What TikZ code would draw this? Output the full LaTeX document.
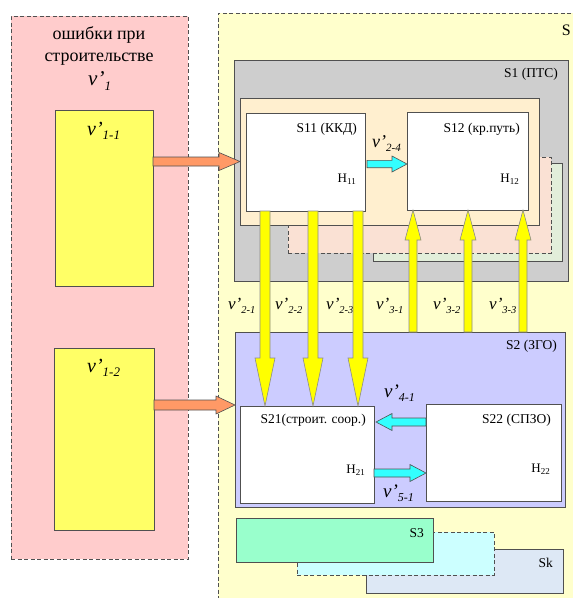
\documentclass[tikz,border=0pt]{standalone}
\usepackage{fontspec}
\setmainfont{Liberation Serif}
\usetikzlibrary{calc,fit,shadows}
\definecolor{pinkbg}{RGB}{255,204,204}
\definecolor{sbg}{RGB}{255,255,204}
\definecolor{sonebg}{RGB}{206,206,206}
\definecolor{bisq}{RGB}{255,239,207}
\definecolor{pinkback}{RGB}{250,225,212}
\definecolor{greenback}{RGB}{226,238,218}
\definecolor{ybox}{RGB}{255,255,102}
\definecolor{lav}{RGB}{204,204,255}
\definecolor{sthree}{RGB}{153,255,204}
\definecolor{cyanbg}{RGB}{204,255,255}
\definecolor{skbg}{RGB}{221,232,245}
\definecolor{orar}{RGB}{255,153,102}
\definecolor{cyar}{RGB}{51,255,255}
\definecolor{yar}{RGB}{255,255,0}
\definecolor{edge}{RGB}{80,80,80}
\newcommand\vl[3]{{\fontsize{#1}{#1}\selectfont\itshape v’\raisebox{-0.24em}{\fontsize{#2}{#2}\selectfont #3}}}
\newcommand\hl[1]{{\fontsize{13}{13}\selectfont Н\raisebox{-0.22em}{\fontsize{9}{9}\selectfont #1}}}
\newcommand\barrow[6]{%
  \coordinate (bh) at ($(#2)!#5!(#1)$);
  \draw[#6] ($(#1)!#3!90:(#2)$) -- ($(bh)!#3!90:(#2)$) -- ($(bh)!#4!90:(#2)$) -- (#2)
    -- ($(bh)!#4!-90:(#2)$) -- ($(bh)!#3!-90:(#2)$) -- ($(#1)!#3!-90:(#2)$) -- cycle;}
\tikzset{
  box/.style={inner sep=0pt, outer sep=0pt, draw=edge, line width=0.7pt},
  dbox/.style={box, dashed, dash pattern=on 4pt off 2.5pt},
  shad/.style={drop shadow={shadow xshift=1.3pt, shadow yshift=-1.3pt, fill=black!55, opacity=1}},
  lbl/.style={inner sep=0pt, font=\fontsize{13.5}{13.5}\selectfont},
  oarrow/.style={fill=orar, draw=edge, line width=0.6pt},
  carrow/.style={fill=cyar, draw=edge, line width=0.6pt},
  yarrow/.style={fill=yar, draw=black!45, line width=0.6pt},
}
\begin{document}
\begin{tikzpicture}[x=1pt,y=-1pt]
\useasboundingbox (0,0) rectangle (573,598);
\clip (0,0) rectangle (573,598);
\fill[white] (0,0) rectangle (573,598);
% left area
\node[dbox, fill=pinkbg, fit={(11,16) (188,559)}] (err) {};
\node[align=center, inner sep=0pt, font=\fontsize{18}{22}\selectfont, anchor=base] (errt) at (99,61) {ошибки при\\строительстве};
\node[inner sep=0pt, anchor=base west] (v1) at (88,85) {\vl{21}{13}{1}};
\node[box, fill=ybox, fit={(55,110) (153,286)}] (y11) {};
\node[inner sep=0pt, anchor=base west] (v11) at (87,135) {\vl{20}{13}{1-1}};
\node[box, fill=ybox, fit={(54,348) (154,530)}] (y12) {};
\node[inner sep=0pt, anchor=base west] (v12) at (87,372) {\vl{20}{13}{1-2}};
% S
\node[dbox, fill=sbg, fit={(218,13) (590,610)}] (s) {};
\node[lbl, anchor=base east, font=\fontsize{16}{16}\selectfont] (st) at (571,35) {S};
% S1
\node[box, shad, fill=sonebg, fit={(234,60) (568,281)}] (s1) {};
\node[lbl, anchor=base east] (s1t) at (558,77) {S1 (ПТС)};
\node[box, shad, fill=greenback, fit={(373,163) (562,261)}] (gb) {};
\node[dbox, fill=pinkback, fit={(288,157) (551,253)}] (pb) {};
\node[box, shad, fill=bisq, fit={(240,98) (539,225)}] (bis) {};
\node[box, shad, fill=white, fit={(246,113) (365,211)}] (s11) {};
\node[lbl, anchor=base east] (s11t) at (357,132) {S11 (ККД)};
\node[inner sep=0pt, anchor=base east] (h11) at (356,182) {\hl{11}};
\node[box, shad, fill=white, fit={(407,112) (528,210)}] (s12) {};
\node[lbl, anchor=base east] (s12t) at (520,132) {S12 (кр.путь)};
\node[inner sep=0pt, anchor=base east] (h12) at (519,182) {\hl{12}};
\node[inner sep=0pt, anchor=base west] (v24) at (372,147) {\vl{18}{11}{2-4}};
% S2
\node[box, shad, fill=lav, fit={(235,332) (565,507)}] (s2) {};
\node[lbl, anchor=base east] (s2t) at (557,349) {S2 (ЗГО)};
\node[box, shad, fill=white, fit={(240,406) (374,503)}] (s21) {};
\node[lbl, anchor=base east] (s21t) at (366,423) {S21(строит. соор.)};
\node[inner sep=0pt, anchor=base east] (h21) at (365,473) {\hl{21}};
\node[box, shad, fill=white, fit={(426,404) (561,501)}] (s22) {};
\node[lbl, anchor=base east] (s22t) at (551,423) {S22 (СПЗО)};
\node[inner sep=0pt, anchor=base east] (h22) at (550,472) {\hl{22}};
\node[inner sep=0pt, anchor=base west] (v41) at (384,397) {\vl{19}{12}{4-1}};
\node[inner sep=0pt, anchor=base west] (v51) at (383,497) {\vl{19}{12}{5-1}};
% S3 .. Sk
\node[box, fill=skbg, fit={(366,549) (563,593)}] (sk) {};
\node[lbl, anchor=base east] (skt) at (553,567) {Sk};
\node[dbox, fill=cyanbg, fit={(297,532) (494,575)}] (sc) {};
\node[box, fill=sthree, fit={(236,518) (433,562)}] (s3) {};
\node[lbl, anchor=base east] (s3t) at (424,537) {S3};
% v labels between
\node[inner sep=0pt, anchor=base west] (v21) at (228,309) {\vl{17}{10.5}{2-1}};
\node[inner sep=0pt, anchor=base west] (v22) at (275,309) {\vl{17}{10.5}{2-2}};
\node[inner sep=0pt, anchor=base west] (v23) at (326,309) {\vl{17}{10.5}{2-3}};
\node[inner sep=0pt, anchor=base west] (v31) at (376,309) {\vl{17}{10.5}{3-1}};
\node[inner sep=0pt, anchor=base west] (v32) at (433,309) {\vl{17}{10.5}{3-2}};
\node[inner sep=0pt, anchor=base west] (v33) at (489,309) {\vl{17}{10.5}{3-3}};
% coordinates for arrows
\coordinate (o1b) at (bis.west);
\coordinate (o1a) at (y11.east |- o1b);
\coordinate (o2b) at ($(s2.north west)+(0,73)$);
\coordinate (o2a) at (y12.east |- o2b);
\coordinate (d1a) at ($(s11.south west)+(19,0)$);
\coordinate (d2a) at ($(s11.south west)+(67,0)$);
\coordinate (d3a) at ($(s11.south west)+(112,0)$);
\coordinate (d1b) at (d1a |- s21.north);
\coordinate (d2b) at (d2a |- s21.north);
\coordinate (d3b) at (d3a |- s21.north);
\coordinate (u1b) at ($(s12.south west)+(6,0)$);
\coordinate (u2b) at ($(s12.south west)+(61,0)$);
\coordinate (u3b) at ($(s12.south west)+(116,0)$);
\coordinate (u1a) at (u1b |- s2.north);
\coordinate (u2a) at (u2b |- s2.north);
\coordinate (u3a) at (u3b |- s2.north);
\coordinate (c1a) at ($(s11.east)+(2,2)$);
\coordinate (c1b) at (s12.west |- c1a);
\coordinate (c2a) at ($(s22.north west)+(0,18)$);
\coordinate (c2b) at ($(s21.east |- c2a)+(2,0)$);
\coordinate (c3a) at ($(s21.north east)+(0,67)$);
\coordinate (c3b) at (s22.west |- c3a);
% arrows
\barrow{o1a}{o1b}{4.5pt}{9pt}{21pt}{oarrow}
\barrow{o2a}{o2b}{5pt}{9pt}{19pt}{oarrow}
\barrow{d1a}{d1b}{5pt}{10pt}{48pt}{yarrow}
\barrow{d2a}{d2b}{5pt}{10pt}{48pt}{yarrow}
\barrow{d3a}{d3b}{5pt}{10pt}{48pt}{yarrow}
\barrow{u1a}{u1b}{4pt}{8pt}{30pt}{yarrow}
\barrow{u2a}{u2b}{4pt}{8pt}{30pt}{yarrow}
\barrow{u3a}{u3b}{4pt}{8pt}{30pt}{yarrow}
\barrow{c1a}{c1b}{3.7pt}{8pt}{15pt}{carrow}
\barrow{c2a}{c2b}{4pt}{8.5pt}{16pt}{carrow}
\barrow{c3a}{c3b}{4pt}{8.5pt}{16pt}{carrow}
\end{tikzpicture}
\end{document}
